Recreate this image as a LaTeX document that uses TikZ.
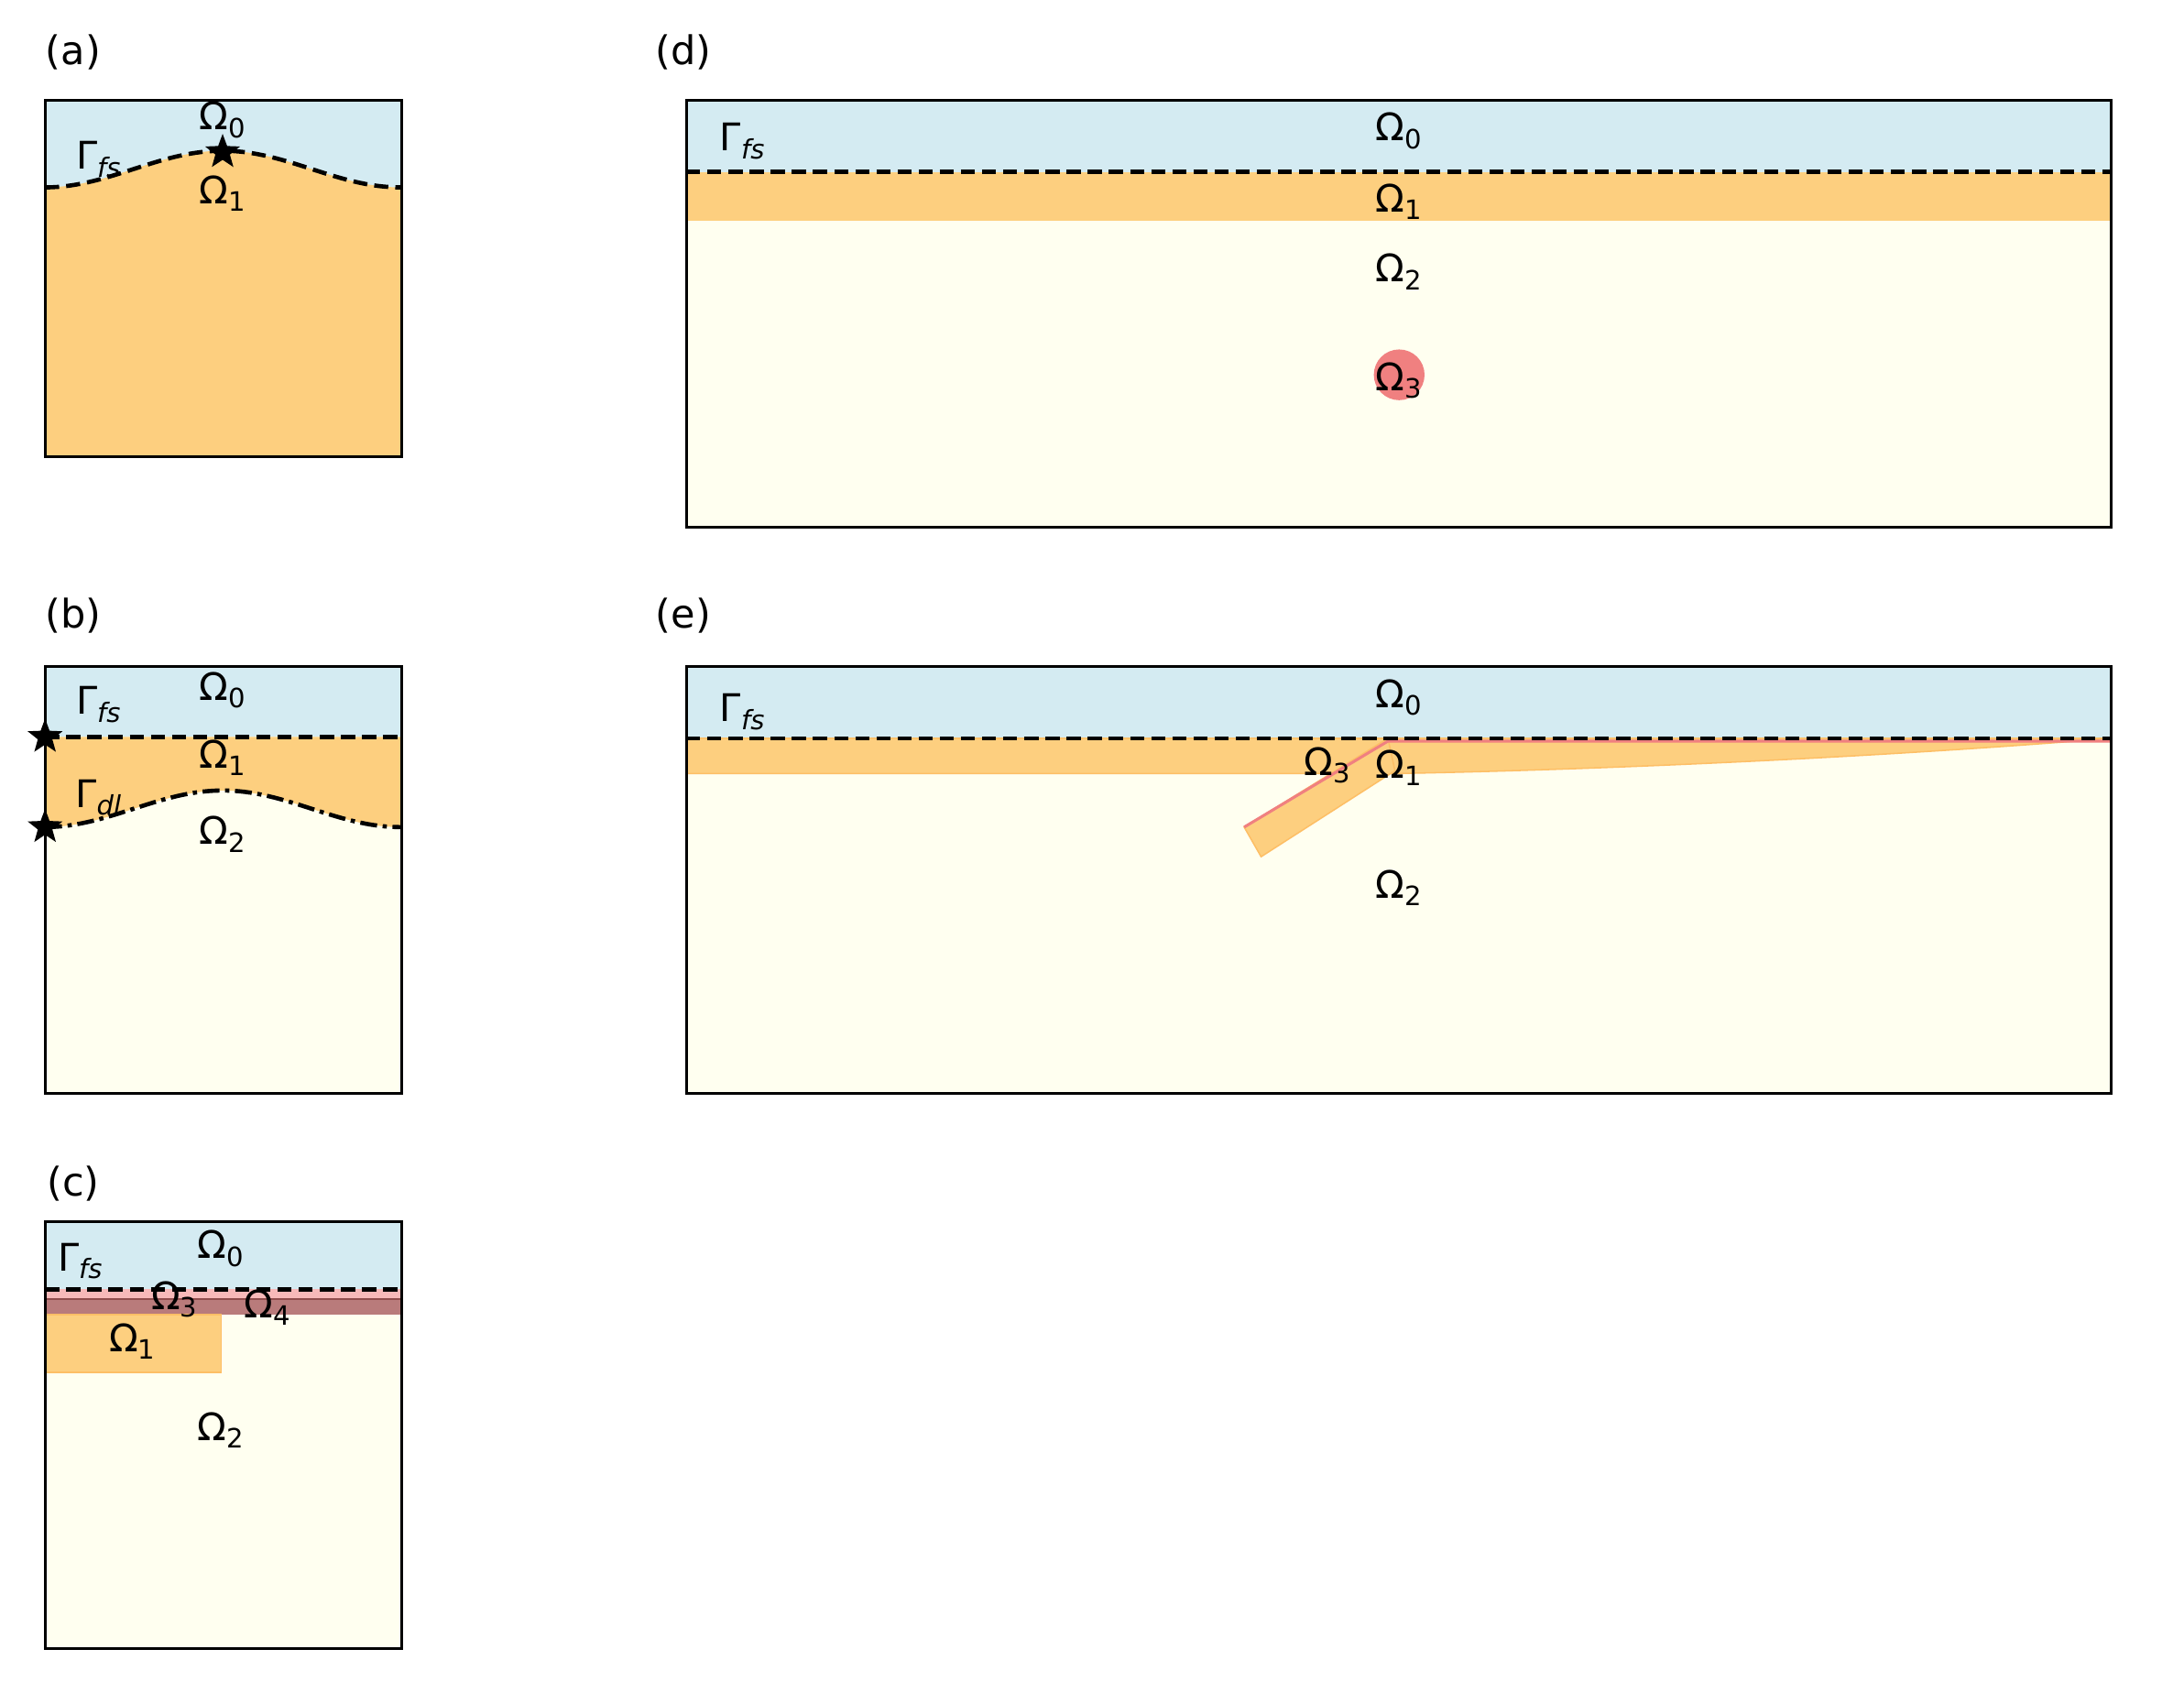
\documentclass[tikz,border=0pt]{standalone}
\usepackage{fontspec}
\setmainfont{DejaVu Sans}
\usetikzlibrary{shapes.geometric}
\definecolor{sky}{HTML}{D4EBF2}
\definecolor{org}{HTML}{FDCF7F}
\definecolor{ylw}{HTML}{FFFFF0}
\definecolor{rd}{HTML}{F08080}
\newcommand{\Om}[1]{Ω\textsubscript{#1}}
\newcommand{\Gm}[1]{Γ\textsubscript{\itshape #1}}
\begin{document}
\begin{tikzpicture}[x=1pt,y=-1pt,
  lab/.style={font=\fontsize{27}{29}\selectfont, inner sep=0pt},
  plab/.style={font=\fontsize{28}{30}\selectfont, inner sep=0pt},
  box/.style={draw=black, line width=2pt},
  fs/.style={line width=3pt, dash pattern=on 10pt off 5pt},
  dl/.style={line width=3pt, dash pattern=on 12pt off 4pt on 3pt off 4pt},
  st/.style={star, star points=5, star point ratio=2.4, fill=black, inner sep=0pt, minimum size=26pt}]
\useasboundingbox (0,0) rectangle (1550,1201);
% ---------- (a)
\node[plab] (la) at (52,37) {(a)};
\fill[sky] (32,71) rectangle (285,324);
\fill[org] (32,324) -- plot[domain=32:285, samples=60] (\x,{120-13*cos((\x-158)/126.5*180)}) -- (285,324) -- cycle;
\draw[fs] plot[domain=32:285, samples=60] (\x,{120-13*cos((\x-158)/126.5*180)});
\draw[box] (32,71) rectangle (285,324);
\node[st] (sa) at (158,108) {};
\node[lab] (a0) at (158,85) {\Om{0}};
\node[lab] (a1) at (158,137) {\Om{1}};
\node[lab] (afs) at (70,113) {\Gm{fs}};
% ---------- (b)
\node[plab] (lb) at (52,437) {(b)};
\fill[ylw] (32,473) rectangle (285,776);
\fill[sky] (32,473) rectangle (285,523);
\fill[org] (32,523) -- plot[domain=32:285, samples=60] (\x,{574-13*cos((\x-158)/126.5*180)}) -- (285,523) -- cycle;
\draw[fs] (32,523) -- (285,523);
\draw[dl] plot[domain=32:285, samples=60] (\x,{574-13*cos((\x-158)/126.5*180)});
\draw[box] (32,473) rectangle (285,776);
\node[st] (sb1) at (32,523) {};
\node[st] (sb2) at (32,587) {};
\node[lab] (b0) at (158,490) {\Om{0}};
\node[lab] (b1) at (158,538) {\Om{1}};
\node[lab] (b2) at (158,592) {\Om{2}};
\node[lab] (bfs) at (70,500) {\Gm{fs}};
\node[lab] (bdl) at (70,566) {\Gm{dl}};
% ---------- (c)
\node[plab] (lc) at (52,840) {(c)};
\fill[ylw] (32,867) rectangle (285,1170);
\fill[sky] (32,867) rectangle (285,915);
\fill[rd!55] (32,915) rectangle (285,922);
\fill[rd!70!black!80] (32,922) rectangle (285,933);
\draw[rd!60!black, line width=1pt] (32,922) -- (285,922);
\fill[org, draw=org!80!orange, line width=1.2pt] (32,933) rectangle (157,974);
\draw[fs] (32,915) -- (285,915);
\draw[box] (32,867) rectangle (285,1170);
\node[lab] (c0) at (157,886) {\Om{0}};
\node[lab] (cfs) at (57,895) {\Gm{fs}};
\node[lab] (c3) at (124,922) {\Om{3}};
\node[lab] (c4) at (190,928) {\Om{4}};
\node[lab] (c1) at (94,952) {\Om{1}};
\node[lab] (c2) at (157,1015) {\Om{2}};
% ---------- (d)
\node[plab] (ld) at (485,37) {(d)};
\fill[ylw] (487,71) rectangle (1498,374);
\fill[sky] (487,71) rectangle (1498,122);
\fill[org] (487,122) rectangle (1498,157);
\fill[rd] (993,266) circle (18);
\draw[fs] (487,122) -- (1498,122);
\draw[box] (487,71) rectangle (1498,374);
\node[lab] (d0) at (993,93) {\Om{0}};
\node[lab] (d1) at (993,143) {\Om{1}};
\node[lab] (d2) at (993,193) {\Om{2}};
\node[lab] (d3) at (993,270) {\Om{3}};
\node[lab] (dfs) at (527,100) {\Gm{fs}};
% ---------- (e)
\node[plab] (le) at (485,437) {(e)};
\fill[ylw] (487,473) rectangle (1498,776);
\fill[sky] (487,473) rectangle (1498,524);
\fill[org, draw=org!80!orange, line width=1pt] (487,524) -- (1498,524) .. controls (1300,540) and (1100,547) .. (990,549) -- (487,549) -- cycle;
\fill[org, draw=org!80!orange, line width=1pt] (985,524) -- (883,587) -- (895,608) -- (990,547) -- cycle;
\draw[rd, line width=2pt] (883,587) -- (985,526) -- (1498,526);
\draw[fs] (487,524) -- (1498,524);
\draw[box] (487,473) rectangle (1498,776);
\node[lab] (e0) at (993,495) {\Om{0}};
\node[lab] (e1) at (993,545) {\Om{1}};
\node[lab] (e3) at (942,543) {\Om{3}};
\node[lab] (e2) at (993,630) {\Om{2}};
\node[lab] (efs) at (527,505) {\Gm{fs}};
\end{tikzpicture}
\end{document}
